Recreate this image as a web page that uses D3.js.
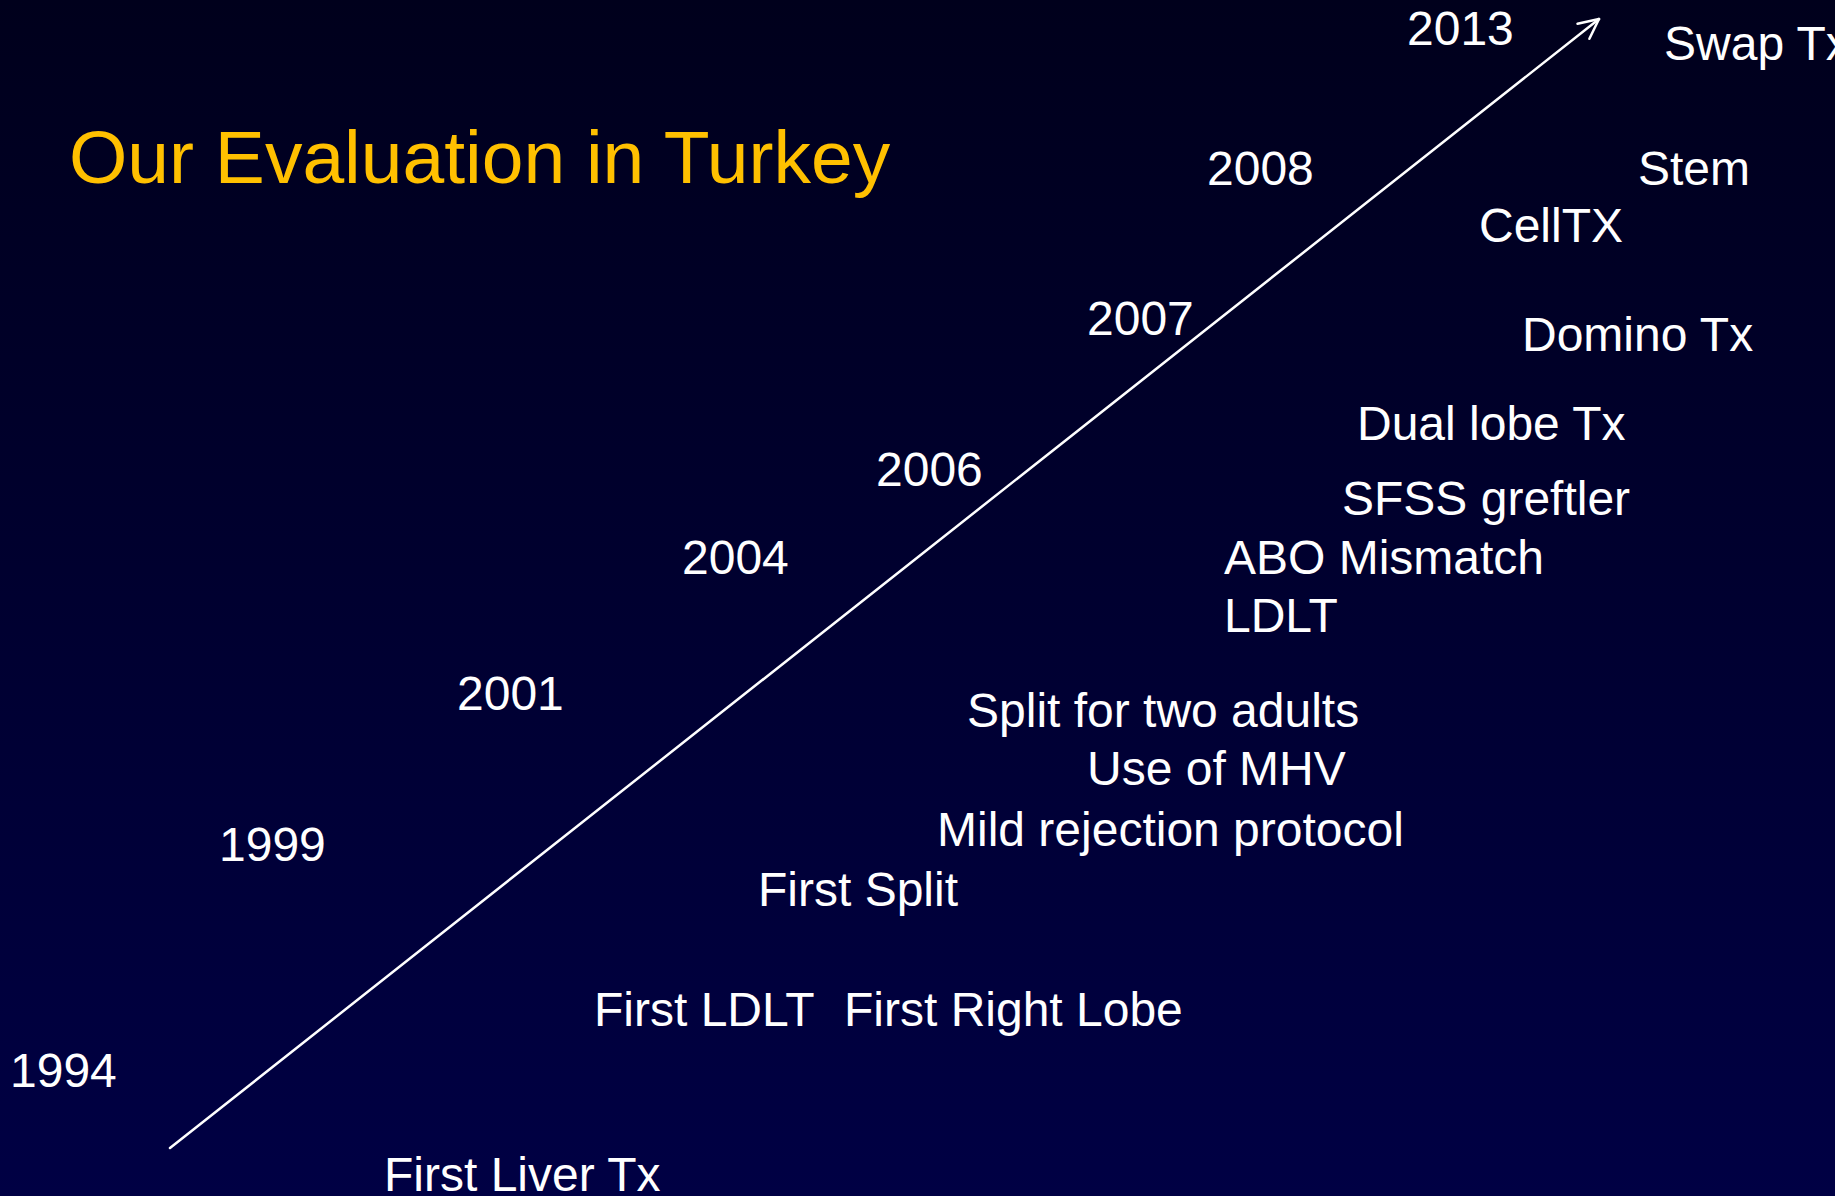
<!DOCTYPE html>
<html>
<head>
<meta charset="utf-8">
<script src="https://cdn.jsdelivr.net/npm/d3@7"></script>
<style>
  html, body { margin: 0; padding: 0; overflow: hidden; background: #000020; }
  svg { display: block; }
</style>
</head>
<body>
<svg id="slide"></svg>
<script>
// timeline content
const title = "Our Evaluation in Turkey";

const years = ["1994", "1999", "2001", "2004", "2006", "2007", "2008", "2013"];
const yearX = [10, 219, 457, 682, 876, 1087, 1207, 1407];
const yearY = [1087, 861, 710, 574, 486, 335, 185, 45];

const events = ["First Liver Tx", "First LDLT", "First Right Lobe", "First Split",
  "Mild rejection protocol", "Use of MHV", "Split for two adults", "LDLT",
  "ABO Mismatch", "SFSS greftler", "Dual lobe Tx", "Domino Tx", "CellTX", "Stem", "Swap Tx"];
const eventX = [384, 594, 844, 758, 937, 1087, 967, 1224, 1224, 1342, 1357, 1522, 1479, 1638, 1664];
const eventY = [1191, 1026, 1026, 906, 846, 785, 727, 632, 574, 515, 440, 351, 242, 185, 60];

// the rising arrow, start and tip
const arrowX = [170, 1599];
const arrowY = [1148, 19];

class SlideView {
  constructor(id) {
    this.width = 1835;
    this.height = 1196;
    this.svg = d3.select("#" + id)
      .attr("width", this.width)
      .attr("height", this.height);
    this.x = d3.scaleLinear().domain([0, 1835]).range([0, this.width]);
    this.y = d3.scaleLinear().domain([0, 1196]).range([0, this.height]);
  }

  drawBackground() {
    const grad = this.svg.append("defs").append("linearGradient")
      .attr("id", "bg").attr("x1", 0).attr("y1", 0).attr("x2", 0).attr("y2", 1);
    grad.append("stop").attr("offset", "0%").attr("stop-color", "#00001c");
    grad.append("stop").attr("offset", "100%").attr("stop-color", "#000044");
    this.svg.append("rect")
      .attr("width", this.width).attr("height", this.height)
      .attr("fill", "url(#bg)");
  }

  drawArrow() {
    const x0 = this.x(arrowX[0]), y0 = this.y(arrowY[0]);
    const x1 = this.x(arrowX[1]), y1 = this.y(arrowY[1]);
    const g = this.svg.append("g")
      .attr("stroke", "#fff").attr("stroke-width", 2.5)
      .attr("fill", "none").attr("stroke-linecap", "round");
    g.append("line")
      .attr("x1", x0).attr("y1", y0).attr("x2", x1).attr("y2", y1);
    // open arrow head
    const ang = Math.atan2(y1 - y0, x1 - x0);
    const len = 22, spread = 0.45;
    [-spread, spread].forEach(function(s) {
      g.append("line")
        .attr("x1", x1).attr("y1", y1)
        .attr("x2", x1 - len * Math.cos(ang + s))
        .attr("y2", y1 - len * Math.sin(ang + s));
    });
  }

  drawText() {
    this.svg.append("text")
      .attr("x", this.x(69)).attr("y", this.y(183))
      .attr("fill", "#FFC000")
      .style("font", "75px 'Liberation Sans', Arial, sans-serif")
      .text(title);

    const font = "48px 'Liberation Sans', Arial, sans-serif";

    this.svg.selectAll(".year")
      .data(years)
      .enter().append("text")
        .attr("class", "year")
        .attr("x", function(d, i) { return this.x(yearX[i]); }.bind(this))
        .attr("y", function(d, i) { return this.y(yearY[i]); }.bind(this))
        .attr("fill", "#fff")
        .style("font", font)
        .text(function(d) { return d; });

    this.svg.selectAll(".event")
      .data(events)
      .enter().append("text")
        .attr("class", "event")
        .attr("x", function(d, i) { return this.x(eventX[i]); }.bind(this))
        .attr("y", function(d, i) { return this.y(eventY[i]); }.bind(this))
        .attr("fill", "#fff")
        .style("font", font)
        .text(function(d) { return d; });
  }
}

const slide = new SlideView("slide");
slide.drawBackground();
slide.drawArrow();
slide.drawText();
</script>
</body>
</html>
